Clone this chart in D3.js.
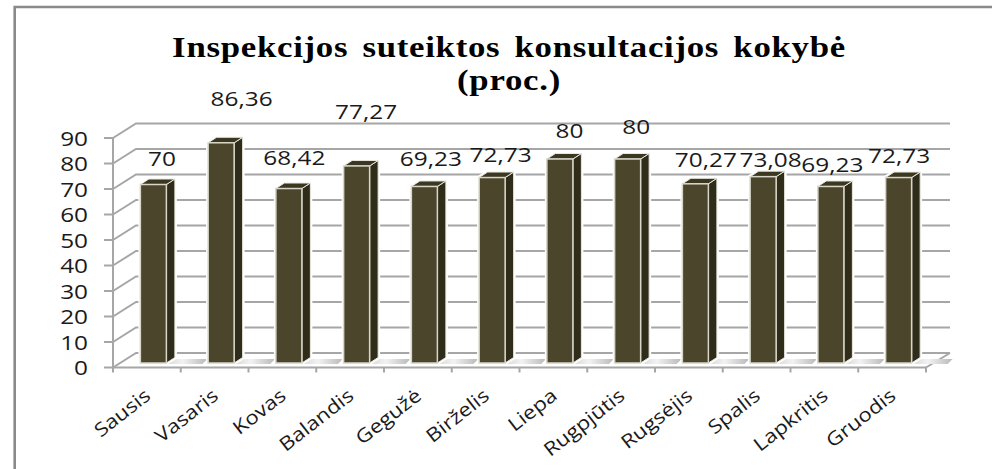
<!DOCTYPE html>
<html>
  <head>
    <title>d3</title>
    <meta charset="utf-8">
    <script src="https://d3js.org/d3.v7.min.js"></script>
    <style type="text/css">
      html, body { margin: 0; background: #fff; }
      svg { display: block; }
      .title { font: bold 29px "Liberation Serif", serif; fill: #000; text-anchor: middle; letter-spacing: 0.6px; word-spacing: 4px; }
      .val { font: 19.5px "Open Sans", sans-serif; fill: #1a1a1a; text-anchor: middle; }
      .ytick { font: 19.5px "Open Sans", sans-serif; fill: #1a1a1a; text-anchor: end; }
      .cat { font: 19px "Open Sans", sans-serif; fill: #1a1a1a; text-anchor: end; }
    </style>
  </head>
  <body>
    <svg id="chart" width="992" height="469"></svg>
    <script>
      var months = ["Sausis", "Vasaris", "Kovas", "Balandis", "Gegužė", "Birželis", "Liepa", "Rugpjūtis", "Rugsėjis", "Spalis", "Lapkritis", "Gruodis"];
      var values = [70, 86.36, 68.42, 77.27, 69.23, 72.73, 80, 80, 70.27, 73.08, 69.23, 72.73];
      var labels = ["70", "86,36", "68,42", "77,27", "69,23", "72,73", "80", "80", "70,27", "73,08", "69,23", "72,73"];
      var yTicks = [0, 10, 20, 30, 40, 50, 60, 70, 80, 90];
      var titleLines = ["Inspekcijos suteiktos konsultacijos kokybė", "(proc.)"];

      var depthX = 23, depthY = 14.5; // wall offset
      var barDX = 8.5, barDY = 5.5;   // bar side offset
      var stretch = 1.25;             // the picture is stretched sideways

      var x = d3.scaleBand().domain(months).range([113, 926]);
      var y = d3.scaleLinear().domain([0, 90]).range([367.5, 138]);
      var barW = 26;
      var barLift = 4.5; // bars stand a little behind the front edge
      var barLeft = function(m) { return x(m) + x.bandwidth() / 2 - barW / 2 + 6.5; };

      var svg = d3.select("#chart");
      var defs = svg.append("defs");
      var grad = defs.append("linearGradient").attr("id", "shadow");
      grad.append("stop").attr("offset", "0").attr("stop-color", "#d8d8d8");
      grad.append("stop").attr("offset", "0.4").attr("stop-color", "#f2f2f2");
      grad.append("stop").attr("offset", "1").attr("stop-color", "#b8b8b8");

      // frame
      svg.append("path").attr("d", "M14.7,469V7H992").attr("fill", "none").attr("stroke", "#8a8a8a").attr("stroke-width", 2.6);

      // title
      svg.selectAll(".title").data(titleLines).enter().append("text")
          .attr("class", "title")
          .attr("transform", function(d, i) { return "translate(509," + (57 + i * 33) + ") scale(1.2,1)"; })
          .text(function(d) { return d; });

      var grid = "#a6a6a6";

      // back wall grid and left side wall
      var wall = svg.append("g").attr("fill", "none").attr("stroke", grid).attr("stroke-width", 2);
      wall.selectAll(".g").data(yTicks).enter().append("path")
          .attr("d", function(d) {
            var p = y(d);
            return "M113," + p + "L" + (113 + depthX) + "," + (p - depthY) + "H950";
          });

      // floor
      wall.append("path").attr("d", "M926,367.5L950," + (367.5 - depthY));

      // floor shadows behind the bars
      svg.append("g").selectAll("path").data(months).enter().append("path")
          .attr("d", function(d) {
            var l = barLeft(d) + barW;
            var b = y(0);
            return "M" + l + "," + (b - 3.5) + "L" + (l + 8) + "," + (b - 8.5) + "H" + (l + 41) + "L" + (l + 36) + "," + (b - 3.5) + "Z";
          })
          .attr("fill", "url(#shadow)");

      // axes front lines
      var axis = svg.append("g").attr("stroke", grid).attr("stroke-width", 2).attr("fill", "none");
      axis.append("path").attr("d", "M113," + y(90) + "V" + y(0) + "H926");
      axis.selectAll(".ty").data(yTicks).enter().append("line")
          .attr("x1", 104).attr("x2", 113)
          .attr("y1", function(d) { return y(d); })
          .attr("y2", function(d) { return y(d); });
      axis.selectAll(".tx").data(months.concat(["end"])).enter().append("line")
          .attr("x1", function(d, i) { return 113 + i * x.step(); })
          .attr("x2", function(d, i) { return 113 + i * x.step(); })
          .attr("y1", y(0)).attr("y2", y(0) + 5);

      svg.selectAll(".ytick").data(yTicks).enter().append("text")
          .attr("class", "ytick")
          .attr("transform", function(d) { return "translate(88," + (y(d) + 7.5) + ") scale(" + stretch + ",1)"; })
          .text(function(d) { return d; });

      // bars
      var bar = svg.selectAll(".bar").data(values).enter().append("g")
          .attr("transform", function(d, i) { return "translate(" + barLeft(months[i]) + ",0)"; });

      var outline = function(d) {
        var t = y(d) - barLift, b = y(0) - barLift;
        return "M0," + b + "V" + t + "l" + barDX + "," + (-barDY) + "H" + (barW + barDX) + "V" + (b - barDY) + "L" + barW + "," + b + "Z";
      };
      bar.append("path") // white halo, cuts the grid lines
          .attr("d", outline)
          .attr("fill", "#fff").attr("stroke", "#fff").attr("stroke-width", 4);
      bar.append("path") // side
          .attr("d", function(d) {
            var t = y(d) - barLift, b = y(0) - barLift;
            return "M" + barW + "," + t + "l" + barDX + "," + (-barDY) + "V" + (b - barDY) + "L" + barW + "," + b + "Z";
          })
          .attr("fill", "#2f2c1a").attr("stroke", "#e8e8e0");
      bar.append("path") // top
          .attr("d", function(d) {
            var t = y(d) - barLift;
            return "M0," + t + "l" + barDX + "," + (-barDY) + "H" + (barW + barDX) + "L" + barW + "," + t + "Z";
          })
          .attr("fill", "#3b3721").attr("stroke", "#e8e8e0");
      bar.append("rect") // front
          .attr("y", function(d) { return y(d) - barLift; })
          .attr("width", barW)
          .attr("height", function(d) { return y(0) - y(d); })
          .attr("fill", "#4b452c").attr("stroke", "#d8d6c8").attr("stroke-width", 1.5);

      // value labels, hand placed like the original
      var labelDX = [15, 27, 12, 16, 13, 15, 16, 15, 17, 14, 8, 7];
      var labelDY = [19, 37, 23.5, 47, 20, 16, 21, 25, 17, 9.5, 14, 14.5];
      svg.selectAll(".val").data(values).enter().append("text")
          .attr("class", "val")
          .attr("transform", function(d, i) {
            return "translate(" + (x(months[i]) + x.bandwidth() / 2 + labelDX[i]) + "," + (y(d) - barLift - labelDY[i]) + ") scale(" + stretch + ",1)";
          })
          .text(function(d, i) { return labels[i]; });

      // category labels
      svg.selectAll(".cat").data(months).enter().append("text")
          .attr("class", "cat")
          .attr("transform", function(d) { return "translate(" + (x(d) + x.bandwidth() / 2 + 5) + ",398) rotate(-38) scale(1.17,1)"; })
          .text(function(d) { return d; });
    </script>
  </body>
</html>
